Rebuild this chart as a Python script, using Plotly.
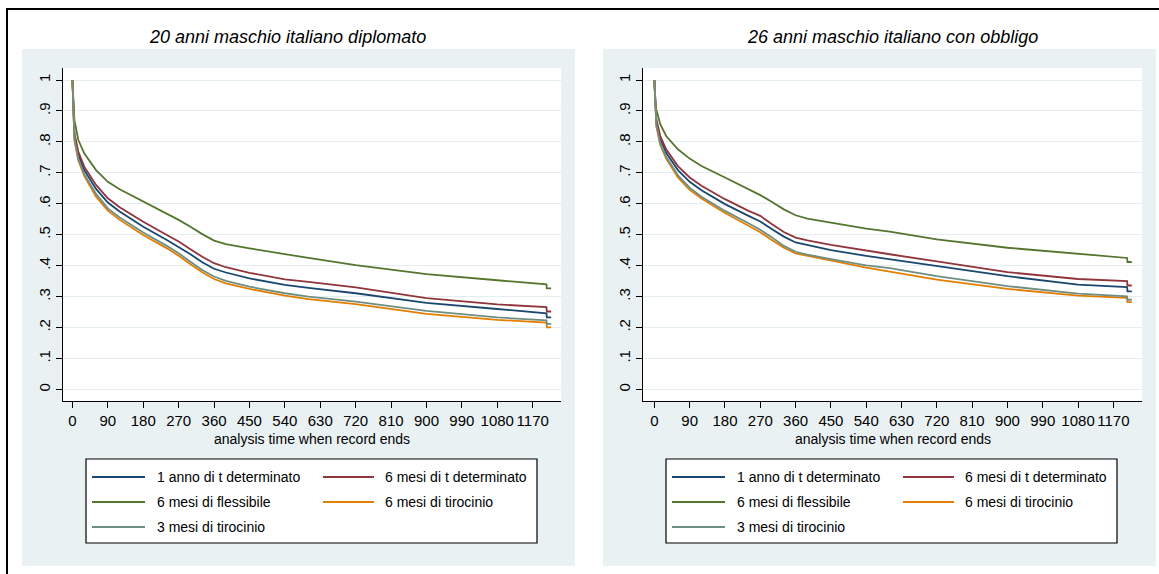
import plotly.graph_objects as go

W, H = 1159, 574

# ---------------- data ----------------
panel_titles = ["20 anni maschio italiano diplomato", "26 anni maschio italiano con obbligo"]
series_names = ["1 anno di t determinato", "6 mesi di t determinato", "6 mesi di flessibile",
                "6 mesi di tirocinio", "3 mesi di tirocinio"]
series_colors = ["#1a476f", "#90353b", "#55752f", "#e37e00", "#6e8e84"]

t_days = [0, 2, 5, 15, 30, 60, 90, 120, 180, 240, 270, 300, 330, 360, 390, 450, 540, 600,
          720, 900, 1080, 1205, 1206, 1217]

# left panel (20 anni maschio italiano diplomato)
left_anno_tdet = [1.0, 0.895, 0.82, 0.758, 0.709, 0.648, 0.604, 0.575, 0.526, 0.483, 0.461, 0.437,
                  0.411, 0.39, 0.378, 0.359, 0.338, 0.328, 0.311, 0.28, 0.26, 0.246, 0.233, 0.233]
left_6m_tdet = [1.0, 0.9, 0.828, 0.768, 0.72, 0.661, 0.618, 0.589, 0.542, 0.499, 0.478, 0.453,
                0.429, 0.408, 0.395, 0.377, 0.356, 0.348, 0.33, 0.295, 0.275, 0.266, 0.252, 0.252]
left_6m_fless = [1.0, 0.92, 0.87, 0.806, 0.763, 0.709, 0.671, 0.647, 0.607, 0.569, 0.548, 0.526,
                 0.502, 0.481, 0.47, 0.456, 0.437, 0.425, 0.402, 0.373, 0.353, 0.34, 0.327, 0.327]
left_6m_tiro = [1.0, 0.885, 0.805, 0.74, 0.69, 0.623, 0.578, 0.548, 0.499, 0.456, 0.432, 0.405,
                0.379, 0.357, 0.343, 0.325, 0.303, 0.292, 0.276, 0.244, 0.225, 0.216, 0.201, 0.201]
left_3m_tiro = [1.0, 0.89, 0.81, 0.745, 0.696, 0.632, 0.585, 0.556, 0.507, 0.464, 0.44, 0.413,
                0.386, 0.365, 0.351, 0.332, 0.311, 0.3, 0.284, 0.254, 0.233, 0.223, 0.212, 0.212]

# right panel (26 anni maschio italiano con obbligo)
right_anno_tdet = [1.0, 0.915, 0.865, 0.81, 0.765, 0.709, 0.671, 0.644, 0.599, 0.561, 0.543, 0.518,
                   0.494, 0.475, 0.466, 0.45, 0.432, 0.421, 0.398, 0.366, 0.339, 0.331, 0.317, 0.317]
right_6m_tdet = [1.0, 0.92, 0.873, 0.819, 0.776, 0.722, 0.685, 0.658, 0.615, 0.577, 0.561, 0.534,
                 0.509, 0.491, 0.482, 0.467, 0.448, 0.437, 0.414, 0.379, 0.357, 0.35, 0.336, 0.336]
right_6m_fless = [1.0, 0.93, 0.905, 0.857, 0.819, 0.776, 0.746, 0.722, 0.685, 0.647, 0.628, 0.606,
                  0.582, 0.563, 0.552, 0.539, 0.52, 0.51, 0.485, 0.458, 0.439, 0.425, 0.412, 0.412]
right_6m_tiro = [1.0, 0.905, 0.85, 0.79, 0.746, 0.685, 0.645, 0.617, 0.57, 0.529, 0.508, 0.482,
                 0.458, 0.44, 0.432, 0.416, 0.394, 0.381, 0.355, 0.325, 0.303, 0.296, 0.282, 0.282]
right_3m_tiro = [1.0, 0.91, 0.855, 0.795, 0.752, 0.692, 0.652, 0.623, 0.577, 0.537, 0.516, 0.491,
                 0.464, 0.445, 0.436, 0.421, 0.401, 0.392, 0.366, 0.334, 0.31, 0.301, 0.29, 0.29]

x_ticks = list(range(0, 1171, 90))
y_ticks = [0, 0.1, 0.2, 0.3, 0.4, 0.5, 0.6, 0.7, 0.8, 0.9, 1.0]
y_ticktext = ["0", ".1", ".2", ".3", ".4", ".5", ".6", ".7", ".8", ".9", "1"]
x_title = "analysis time when record ends"

panels = [
    [left_anno_tdet, left_6m_tdet, left_6m_fless, left_6m_tiro, left_3m_tiro],
    [right_anno_tdet, right_6m_tdet, right_6m_fless, right_6m_tiro, right_3m_tiro],
]

# ---------------- layout helpers ----------------
FONT = "Liberation Sans, Arial, sans-serif"
GRAY = "#eaf1f3"


def px(x):
    return x / W


def py(y):
    return 1 - y / H


plot_left = [63, 643]
plot_right = [561, 1142]
plot_top, plot_bottom = 68, 401
gray_box = [(22, 575), (603, 1156)]
x_ranges = [[-24, 1242], [-29, 1243]]
y_range = [-0.0372, 1.0388]

fig = go.Figure()
shapes = []
annotations = []

for p in range(2):
    xa = "x" if p == 0 else "x2"
    ya = "y" if p == 0 else "y2"
    for name, color, vals in zip(series_names, series_colors, panels[p]):
        fig.add_trace(go.Scatter(x=t_days, y=vals, mode="lines", name=name,
                                 line=dict(color=color, width=1.8),
                                 xaxis=xa, yaxis=ya, showlegend=False, hoverinfo="skip"))

    # gray panel background
    gx0, gx1 = gray_box[p]
    shapes.append(dict(type="rect", xref="paper", yref="paper", layer="below",
                       x0=px(gx0), x1=px(gx1), y0=py(566), y1=py(49),
                       fillcolor=GRAY, line=dict(width=0)))
    shapes.append(dict(type="rect", xref="paper", yref="paper", layer="below",
                       x0=px(plot_left[p]), x1=px(plot_right[p]), y0=py(plot_bottom), y1=py(plot_top),
                       fillcolor="white", line=dict(width=0)))

    # title
    annotations.append(dict(text=panel_titles[p], xref="paper", yref="paper",
                            x=px([287, 892][p]), y=py(37), showarrow=False,
                            xanchor="center", yanchor="middle",
                            font=dict(family=FONT, size=18, color="black", style="italic")))
    # x-axis title
    cx = (plot_left[p] + plot_right[p]) / 2
    annotations.append(dict(text=x_title, xref="paper", yref="paper",
                            x=px(cx), y=py(439), showarrow=False,
                            xanchor="center", yanchor="middle",
                            font=dict(family=FONT, size=14, color="black")))

    # legend (manual, Stata style)
    off = plot_left[p] - plot_left[0]
    shapes.append(dict(type="rect", xref="paper", yref="paper", layer="above",
                       x0=px(86 + off), x1=px(537 + off), y0=py(543), y1=py(459),
                       fillcolor="white", line=dict(color="black", width=1.2)))
    rows = [477, 502, 527]
    cols = [(92, 145, 155), (323, 374, 383)]
    for i, (name, color) in enumerate(zip(series_names, series_colors)):
        r, c = divmod(i, 2)
        lx0, lx1, tx = cols[c]
        shapes.append(dict(type="line", xref="paper", yref="paper", layer="above",
                           x0=px(lx0 + off), x1=px(lx1 + off), y0=py(rows[r]), y1=py(rows[r]),
                           line=dict(color=color, width=1.8)))
        annotations.append(dict(text=name, xref="paper", yref="paper",
                                x=px(tx + off), y=py(rows[r]), showarrow=False,
                                xanchor="left", yanchor="middle",
                                font=dict(family=FONT, size=14, color="black")))

# outer border (top and left visible)
shapes.append(dict(type="line", xref="paper", yref="paper", x0=px(6), x1=1.0, y0=py(9), y1=py(9),
                   line=dict(color="black", width=2)))
shapes.append(dict(type="line", xref="paper", yref="paper", x0=px(7), x1=px(7), y0=py(8), y1=0,
                   line=dict(color="black", width=2)))

axis_common_x = dict(showgrid=False, zeroline=False, showline=True, linecolor="black", linewidth=1,
                     ticks="outside", ticklen=6, tickcolor="black", tickwidth=1, tickangle=0,
                     tickvals=x_ticks, tickfont=dict(family=FONT, size=15, color="black"))
axis_common_y = dict(showgrid=True, gridcolor="#e4edf0", gridwidth=1, zeroline=False, showline=True,
                     linecolor="black", linewidth=1, ticks="outside", ticklen=6, tickcolor="black",
                     tickwidth=1, tickvals=y_ticks, ticktext=y_ticktext, tickangle=-90,
                     range=y_range, tickfont=dict(family=FONT, size=15, color="black"))

fig.update_layout(
    width=W, height=H, autosize=False,
    margin=dict(l=0, r=0, t=0, b=0),
    paper_bgcolor="white", plot_bgcolor="white",
    showlegend=False,
    xaxis=dict(domain=[px(plot_left[0]), px(plot_right[0])], range=x_ranges[0], anchor="y",
               **axis_common_x),
    yaxis=dict(domain=[py(plot_bottom), py(plot_top)], anchor="x", **axis_common_y),
    xaxis2=dict(domain=[px(plot_left[1]), px(plot_right[1])], range=x_ranges[1], anchor="y2",
                **axis_common_x),
    yaxis2=dict(domain=[py(plot_bottom), py(plot_top)], anchor="x2", **axis_common_y),
    shapes=shapes, annotations=annotations,
)

fig.write_html("out.html")
